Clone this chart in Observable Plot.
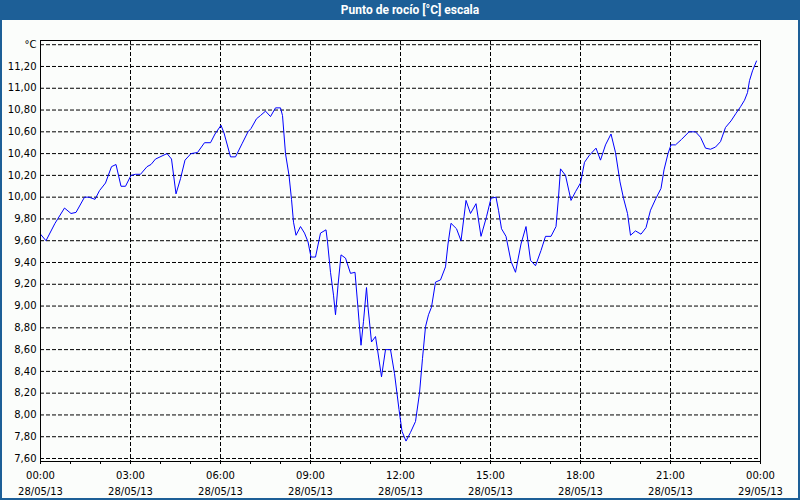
<!DOCTYPE html>
<html><head><meta charset="utf-8">
<script src="https://cdn.jsdelivr.net/npm/d3@7"></script>
<script src="https://cdn.jsdelivr.net/npm/@observablehq/plot@0.6"></script>
<style>
html,body{margin:0;padding:0;background:#fbfdfb;}
#wrap{position:relative;width:800px;height:500px;overflow:hidden;background:#fbfdfb;}
#title{position:absolute;left:0;top:0;width:780px;padding-left:20px;height:20px;background:#1d5f97;color:#fff;font:bold 12px Roboto,sans-serif;line-height:20px;text-align:center;}
#chart{position:absolute;left:0;top:20px;}
#border{position:absolute;left:0;top:0;width:796px;height:496px;border:2px solid #1d5f97;pointer-events:none;}
</style></head><body>
<div id="wrap"><div id="title">Punto de rocío [°C] escala</div><div id="chart"></div><div id="border"></div></div>
<script>
// minutes after 28/05/13 00:00
const minutes = [0,11,29,48,61,71,88,97,109,118,130,142,151,161,170,181,190,200,213,221,230,253,262,271,280,289,301,314,328,340,349,361,
367,380,390,403,415,421,432,440,450,460,470,480,484,490,497,502,506,511,520,528,535,541,550,560,571,574,580,586,590,595,601,610,620,629,635,641,646,652,655,662,670,674,682,690,700,708,717,723,
731,740,750,758,764,770,776,782,790,800,810,815,821,832,841,847,851,860,871,881,892,901,911,916,922,931,941,950,961,971,980,990,1001,1010,1021,1031,1036,1040,1050,1061,1070,1080,
1088,1097,1111,1120,1130,1141,1150,1159,1166,1174,1180,1190,1201,1211,1220,1231,1241,1247,1255,1261,1270,1282,1297,1310,1320,1330,1340,1350,1360,1370,1381,1391,1400,1408,1414,1418,1424,1432];
const dewPoint = [9.66,9.60,9.76,9.90,9.85,9.86,10.00,10.00,9.98,10.06,10.13,10.28,10.30,10.10,10.10,10.20,10.21,10.21,10.28,10.30,10.35,10.40,10.35,10.03,10.17,10.34,10.40,10.41,10.50,10.50,10.58,10.66,
10.59,10.37,10.37,10.49,10.60,10.63,10.72,10.75,10.79,10.74,10.82,10.82,10.75,10.40,10.20,9.98,9.77,9.65,9.73,9.67,9.59,9.45,9.45,9.67,9.70,9.59,9.31,9.10,8.92,9.19,9.47,9.44,9.30,9.31,8.98,8.64,8.86,9.17,8.99,8.67,8.72,8.60,8.35,8.60,8.60,8.38,8.05,7.85,
7.76,7.84,7.94,8.20,8.52,8.81,8.92,8.99,9.22,9.24,9.36,9.57,9.76,9.71,9.60,9.82,9.97,9.85,9.94,9.64,9.82,9.99,10.00,9.88,9.71,9.64,9.41,9.31,9.57,9.73,9.42,9.37,9.51,9.64,9.64,9.73,10.00,10.26,10.20,9.97,10.05,10.13,
10.32,10.38,10.45,10.34,10.48,10.58,10.41,10.14,9.99,9.85,9.65,9.69,9.66,9.72,9.88,9.99,10.08,10.25,10.40,10.48,10.48,10.53,10.60,10.60,10.55,10.45,10.44,10.46,10.51,10.64,10.70,10.77,10.83,10.89,10.96,11.07,11.16,11.25];

const xTickHours = [0,3,6,9,12,15,18,21,24];
const xTickLabels = ["00:00\n28/05/13","03:00\n28/05/13","06:00\n28/05/13","09:00\n28/05/13","12:00\n28/05/13","15:00\n28/05/13","18:00\n28/05/13","21:00\n28/05/13","00:00\n29/05/13"];
const xGridHours = [3,6,9,12,15,18,21];
const xMinorHours = [0,1,2,3,4,5,6,7,8,9,10,11,12,13,14,15,16,17,18,19,20,21,22,23,24];
const yTicks = [7.6,7.8,8.0,8.2,8.4,8.6,8.8,9.0,9.2,9.4,9.6,9.8,10.0,10.2,10.4,10.6,10.8,11.0,11.2,11.4];
const yTickLabels = ["7,60","7,80","8,00","8,20","8,40","8,60","8,80","9,00","9,20","9,40","9,60","9,80","10,00","10,20","10,40","10,60","10,80","11,00","11,20","°C"];

const t0 = Date.UTC(2013, 4, 28);
const hd = h => new Date(t0 + h * 3600000);
const data = minutes.map((m, i) => ({time: new Date(t0 + m * 60000), value: dewPoint[i]}));
const yLabel = new Map(yTicks.map((v, i) => [v, yTickLabels[i]]));
const xLabel = new Map(xTickHours.map((h, i) => [hd(h).getTime(), xTickLabels[i]]));

const chart = Plot.plot({
  width: 800, height: 478,
  marginLeft: 40, marginRight: 40, marginTop: 20, marginBottom: 37,
  style: {background: "transparent", fontFamily: "DejaVu Sans, sans-serif", fontSize: "10px", color: "black", overflow: "visible"},
  x: {type: "utc", domain: [hd(0), hd(24)]},
  y: {domain: [7.5725, 11.4386]},
  marks: [
    Plot.ruleY(yTicks, {stroke: "black", strokeDasharray: "4,2", strokeWidth: 1}),
    Plot.ruleX(xGridHours.map(hd), {stroke: "black", strokeDasharray: "4,2", strokeWidth: 1}),
    Plot.line(data, {x: "time", y: "value", stroke: "#0000ff", strokeWidth: 1}),
    Plot.frame({stroke: "black", strokeWidth: 1}),
    Plot.axisY({ticks: yTicks, tickFormat: d => yLabel.get(d), tickSize: 0, tickPadding: 4, label: null, fill: "black"}),
    Plot.axisX({ticks: xMinorHours.map(hd), tickFormat: () => "", tickSize: 3, label: null, stroke: "black"}),
    Plot.axisX({ticks: xTickHours.map(hd), tickFormat: d => xLabel.get(d.getTime()), tickSize: 0, tickPadding: 6.5, lineHeight: 1.6, label: null, fill: "black"})
  ]
});
document.getElementById("chart").appendChild(chart);
</script>
</body></html>
